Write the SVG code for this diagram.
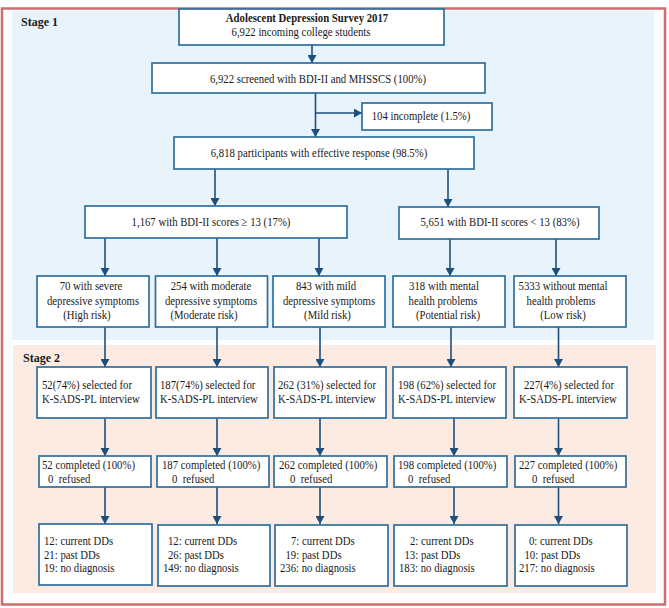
<svg xmlns="http://www.w3.org/2000/svg" width="669" height="608" viewBox="0 0 669 608">
<defs>
<marker id="ah" markerWidth="8" markerHeight="9" refX="8" refY="4.5" orient="auto" markerUnits="userSpaceOnUse">
<path d="M0,0 L8,4.5 L0,9 Z" fill="#1d4f7c"/>
</marker>
<style>
.bx{fill:#ffffff;stroke:#2f6f9d;stroke-width:1.7}
.t{font-family:"Liberation Serif","Times New Roman",serif;font-size:12.5px;fill:#1a1a1a;white-space:pre}
.c{text-anchor:middle;transform-box:fill-box;transform-origin:center;transform:scaleX(0.86)}
.l{text-anchor:start;transform-box:fill-box;transform-origin:left center;transform:scaleX(0.86)}
.b{font-weight:bold}
.stg{font-family:"Liberation Serif","Times New Roman",serif;font-size:12px;font-weight:bold;fill:#1a1a1a}
.ar{stroke:#1d4f7c;stroke-width:1.6;fill:none;marker-end:url(#ah)}
</style>
</defs>
<rect x="0" y="0" width="669" height="608" fill="#ffffff"/>
<g id="panels">
<rect x="12" y="11" width="642" height="329" fill="#e9f3fb"/>
<rect x="13" y="345" width="643" height="248" fill="#fcebe3"/>
<rect x="2" y="8.5" width="663" height="596" fill="none" stroke="#d06e6e" stroke-width="2.5"/>
<text class="stg" x="21" y="26">Stage 1</text>
<text class="stg" x="23" y="362">Stage 2</text>
</g>
<g id="connectors">
<line class="ar" x1="312" y1="45" x2="312" y2="63"/>
<line class="ar" x1="315.5" y1="93" x2="315.5" y2="137"/>
<line class="ar" x1="315.5" y1="113" x2="362" y2="113"/>
<line class="ar" x1="215" y1="169" x2="215" y2="206"/>
<line class="ar" x1="448" y1="169" x2="448" y2="207"/>
<line class="ar" x1="105" y1="238" x2="105" y2="276"/>
<line class="ar" x1="217" y1="238" x2="217" y2="276"/>
<line class="ar" x1="319" y1="238" x2="319" y2="276"/>
<line class="ar" x1="450" y1="239" x2="450" y2="276"/>
<line class="ar" x1="556" y1="239" x2="556" y2="276"/>
<line class="ar" x1="105" y1="327" x2="105" y2="367"/>
<line class="ar" x1="217" y1="327" x2="217" y2="367"/>
<line class="ar" x1="320" y1="327" x2="320" y2="367"/>
<line class="ar" x1="451" y1="327" x2="451" y2="367"/>
<line class="ar" x1="558.5" y1="327" x2="558.5" y2="367"/>
<line class="ar" x1="105" y1="418" x2="105" y2="456"/>
<line class="ar" x1="217" y1="418" x2="217" y2="456"/>
<line class="ar" x1="320" y1="418" x2="320" y2="456"/>
<line class="ar" x1="454" y1="418" x2="454" y2="456"/>
<line class="ar" x1="558.5" y1="418" x2="558.5" y2="456"/>
<line class="ar" x1="105" y1="487" x2="105" y2="524"/>
<line class="ar" x1="217" y1="487" x2="217" y2="524"/>
<line class="ar" x1="320" y1="487" x2="320" y2="524"/>
<line class="ar" x1="454" y1="487" x2="454" y2="524"/>
<line class="ar" x1="558.5" y1="487" x2="558.5" y2="524"/>
</g>
<g id="n-survey">
<rect class="bx" x="179" y="9" width="265" height="36"/>
<text class="t c b" x="307" y="22">Adolescent Depression Survey 2017</text>
<text class="t c" x="301" y="36.5">6,922 incoming college students</text>
</g>
<g id="n-screened">
<rect class="bx" x="152" y="63" width="333" height="30"/>
<text class="t c" x="318" y="83.5">6,922 screened with BDI-II and MHSSCS (100%)</text>
</g>
<g id="n-incomplete">
<rect class="bx" x="362" y="103" width="130" height="27"/>
<text class="t c" x="421" y="120.5">104 incomplete (1.5%)</text>
</g>
<g id="n-effective">
<rect class="bx" x="174" y="137" width="300" height="32"/>
<text class="t c" x="319" y="157">6,818 participants with effective response (98.5%)</text>
</g>
<g id="n-bdi-high">
<rect class="bx" x="85" y="206" width="262" height="32"/>
<text class="t c" x="211" y="226">1,167 with BDI-II scores ≥ 13 (17%)</text>
</g>
<g id="n-bdi-low">
<rect class="bx" x="399" y="207" width="200" height="32"/>
<text class="t c" x="500" y="226.5">5,651 with BDI-II scores &lt; 13 (83%)</text>
</g>
<g id="n-severe">
<rect class="bx" x="37" y="276" width="112" height="51"/>
<text class="t c" x="91" y="290.5">70 with severe</text>
<text class="t c" x="93" y="305">depressive symptoms</text>
<text class="t c" x="87" y="319.5">(High risk)</text>
</g>
<g id="n-moderate">
<rect class="bx" x="155.5" y="276" width="112" height="51"/>
<text class="t c" x="211" y="290.5">254 with moderate</text>
<text class="t c" x="211" y="305">depressive symptoms</text>
<text class="t c" x="204" y="319.5">(Moderate risk)</text>
</g>
<g id="n-mild">
<rect class="bx" x="273" y="276" width="112" height="51"/>
<text class="t c" x="326" y="290.5">843 with mild</text>
<text class="t c" x="329" y="305">depressive symptoms</text>
<text class="t c" x="327.5" y="319.5">(Mild risk)</text>
</g>
<g id="n-potential">
<rect class="bx" x="393" y="276" width="112" height="51"/>
<text class="t c" x="444" y="290.5">318 with mental</text>
<text class="t c" x="443" y="305">health problems</text>
<text class="t c" x="448" y="319.5">(Potential risk)</text>
</g>
<g id="n-low">
<rect class="bx" x="514" y="276" width="112" height="51"/>
<text class="t c" x="563" y="290.5">5333 without mental</text>
<text class="t c" x="561" y="305">health problems</text>
<text class="t c" x="563" y="319.5">(Low risk)</text>
</g>
<g id="n-sel-1">
<rect class="bx" x="37" y="367" width="114" height="51"/>
<text class="t l" x="42" y="389.5">52(74%) selected for</text>
<text class="t l" x="42" y="403">K-SADS-PL interview</text>
</g>
<g id="n-sel-2">
<rect class="bx" x="156" y="367" width="112" height="51"/>
<text class="t l" x="160" y="389.5">187(74%) selected for</text>
<text class="t l" x="160" y="403">K-SADS-PL interview</text>
</g>
<g id="n-sel-3">
<rect class="bx" x="274" y="367" width="112" height="51"/>
<text class="t l" x="278" y="389.5">262 (31%) selected for</text>
<text class="t l" x="278" y="403">K-SADS-PL interview</text>
</g>
<g id="n-sel-4">
<rect class="bx" x="393" y="367" width="113" height="51"/>
<text class="t l" x="398" y="389.5">198 (62%) selected for</text>
<text class="t l" x="398" y="403">K-SADS-PL interview</text>
</g>
<g id="n-sel-5">
<rect class="bx" x="514" y="367" width="113" height="51"/>
<text class="t l" x="524" y="389.5">227(4%) selected for</text>
<text class="t l" x="519" y="403">K-SADS-PL interview</text>
</g>
<g id="n-comp-1">
<rect class="bx" x="39" y="456" width="112" height="31"/>
<text class="t l" x="42" y="469">52 completed (100%)</text>
<text class="t l" x="48" y="483">0  refused</text>
</g>
<g id="n-comp-2">
<rect class="bx" x="157" y="456" width="112" height="31"/>
<text class="t l" x="162" y="469">187 completed (100%)</text>
<text class="t l" x="172" y="483">0  refused</text>
</g>
<g id="n-comp-3">
<rect class="bx" x="274" y="456" width="113" height="31"/>
<text class="t l" x="279" y="469">262 completed (100%)</text>
<text class="t l" x="290" y="483">0  refused</text>
</g>
<g id="n-comp-4">
<rect class="bx" x="394" y="456" width="113" height="31"/>
<text class="t l" x="398" y="469">198 completed (100%)</text>
<text class="t l" x="408" y="483">0  refused</text>
</g>
<g id="n-comp-5">
<rect class="bx" x="515" y="456" width="111" height="31"/>
<text class="t l" x="519" y="469">227 completed (100%)</text>
<text class="t l" x="532" y="483">0  refused</text>
</g>
<g id="n-dx-1">
<rect class="bx" x="39" y="524" width="113" height="61"/>
<text class="t l" x="44" y="545.5">12: current DDs</text>
<text class="t l" x="44" y="559">21: past DDs</text>
<text class="t l" x="44" y="572">19: no diagnosis</text>
</g>
<g id="n-dx-2">
<rect class="bx" x="158" y="525" width="112" height="61"/>
<text class="t l" x="168" y="545.5">12: current DDs</text>
<text class="t l" x="168" y="559">26: past DDs</text>
<text class="t l" x="163" y="572">149: no diagnosis</text>
</g>
<g id="n-dx-3">
<rect class="bx" x="275" y="525" width="113" height="61"/>
<text class="t l" x="291" y="545.5">7: current DDs</text>
<text class="t l" x="285.5" y="559">19: past DDs</text>
<text class="t l" x="280" y="572">236: no diagnosis</text>
</g>
<g id="n-dx-4">
<rect class="bx" x="394" y="525" width="113" height="61"/>
<text class="t l" x="410" y="545.5">2: current DDs</text>
<text class="t l" x="404.5" y="559">13: past DDs</text>
<text class="t l" x="399" y="572">183: no diagnosis</text>
</g>
<g id="n-dx-5">
<rect class="bx" x="515" y="525" width="112" height="61"/>
<text class="t l" x="529" y="545.5">0: current DDs</text>
<text class="t l" x="524.5" y="559">10: past DDs</text>
<text class="t l" x="519" y="572">217: no diagnosis</text>
</g>
</svg>
